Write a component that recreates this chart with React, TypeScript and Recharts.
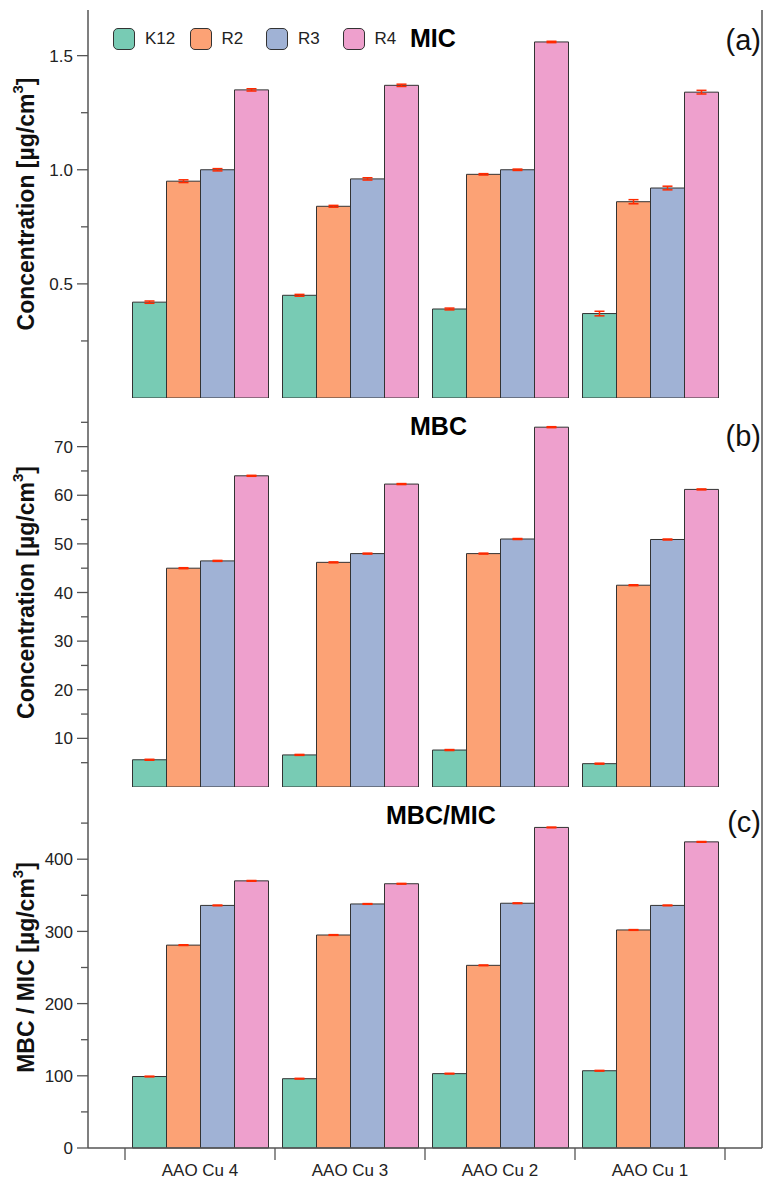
import React from "react";
import { BarChart, Bar, XAxis, YAxis, ErrorBar, Legend } from "recharts";

// samples on the x axis
const categories = ["AAO Cu 4", "AAO Cu 3", "AAO Cu 2", "AAO Cu 1"];
const seriesNames = ["K12", "R2", "R3", "R4"];
const seriesKeys = ["k12", "r2", "r3", "r4"];
const seriesColors = ["#78cbb4", "#fca275", "#a0b2d5", "#eea0cd"];

// (a) MIC [ug/cm3]
const micK12 = [0.42, 0.45, 0.39, 0.37];
const micR2 = [0.95, 0.84, 0.98, 0.86];
const micR3 = [1.0, 0.96, 1.0, 0.92];
const micR4 = [1.35, 1.37, 1.56, 1.34];
const micErrK12 = [0.005, 0.004, 0.004, 0.01];
const micErrR2 = [0.006, 0.004, 0.003, 0.009];
const micErrR3 = [0.005, 0.005, 0.003, 0.008];
const micErrR4 = [0.005, 0.005, 0.003, 0.008];

// (b) MBC [ug/cm3]
const mbcK12 = [5.6, 6.6, 7.6, 4.8];
const mbcR2 = [45.0, 46.2, 48.0, 41.5];
const mbcR3 = [46.5, 48.0, 51.0, 50.9];
const mbcR4 = [64.0, 62.3, 74.0, 61.2];
const mbcErrK12 = [0.1, 0.1, 0.1, 0.1];
const mbcErrR2 = [0.1, 0.1, 0.1, 0.1];
const mbcErrR3 = [0.1, 0.1, 0.1, 0.1];
const mbcErrR4 = [0.1, 0.1, 0.1, 0.1];

// (c) MBC / MIC
const ratioK12 = [99, 96, 103, 107];
const ratioR2 = [281, 295, 253, 302];
const ratioR3 = [336, 338, 339, 336];
const ratioR4 = [370, 366, 444, 424];
const ratioErrK12 = [0.5, 0.5, 0.5, 0.5];
const ratioErrR2 = [0.5, 0.5, 0.5, 0.5];
const ratioErrR3 = [0.5, 0.5, 0.5, 0.5];
const ratioErrR4 = [0.5, 0.5, 0.5, 0.5];

// y ticks (all) and the labelled ones
const micTicks = [0.25, 0.5, 0.75, 1.0, 1.25, 1.5];
const micLabels = [0.5, 1.0, 1.5];
const mbcTicks = [5, 10, 15, 20, 25, 30, 35, 40, 45, 50, 55, 60, 65, 70, 75];
const mbcLabels = [10, 20, 30, 40, 50, 60, 70];
const ratioTicks = [0, 50, 100, 150, 200, 250, 300, 350, 400, 450];
const ratioLabels = [0, 100, 200, 300, 400];

const makeRows = (vals: number[][], errs: number[][]) =>
  categories.map((name, i) => {
    const row: any = { name };
    seriesKeys.forEach((k, s) => {
      row[k] = vals[s][i];
      row[k + "Err"] = errs[s][i];
    });
    return row;
  });

const micData = makeRows([micK12, micR2, micR3, micR4], [micErrK12, micErrR2, micErrR3, micErrR4]);
const mbcData = makeRows([mbcK12, mbcR2, mbcR3, mbcR4], [mbcErrK12, mbcErrR2, mbcErrR3, mbcErrR4]);
const ratioData = makeRows([ratioK12, ratioR2, ratioR3, ratioR4], [ratioErrK12, ratioErrR2, ratioErrR3, ratioErrR4]);

const FONT = '"Liberation Sans", Arial, sans-serif';
const AXIS = "#555";
const W = 772;

const YTick = (props: any) => {
  const { x, y, payload, labels, fmt } = props;
  const major = labels.some((l: number) => Math.abs(l - payload.value) < 1e-9);
  return (
    <g>
      <line x1={x + (major ? 4 : 8)} x2={x + 15} y1={y} y2={y} stroke={AXIS} strokeWidth={1.3} />
      {major && (
        <text x={x} y={y} dy="0.36em" textAnchor="end" fontSize={17} fill="#222" fontFamily={FONT}>
          {fmt(payload.value)}
        </text>
      )}
    </g>
  );
};

const XTick = (props: any) => {
  const { x, y, payload, index, visibleTicksCount } = props;
  const half = payload.offset || 75;
  const y0 = y - 16;
  return (
    <g>
      <line x1={x - half} x2={x - half} y1={y0} y2={y0 + 12} stroke={AXIS} strokeWidth={1.3} />
      {index === visibleTicksCount - 1 && (
        <line x1={x + half} x2={x + half} y1={y0} y2={y0 + 12} stroke={AXIS} strokeWidth={1.3} />
      )}
      <text x={x} y={y} dy="0.71em" textAnchor="middle" fontSize={17} fill="#222" fontFamily={FONT}>
        {payload.value}
      </text>
    </g>
  );
};

const YTitle = (props: any) => {
  const { viewBox, lead } = props;
  const cx = viewBox.x + 26;
  const cy = viewBox.y + viewBox.height / 2;
  return (
    <text
      x={cx}
      y={cy}
      transform={`rotate(-90, ${cx}, ${cy})`}
      textAnchor="middle"
      dominantBaseline="central"
      fontSize={23}
      fontWeight="bold"
      fill="#111"
      fontFamily={FONT}
    >
      {lead}[µg/cm<tspan dy={-9} fontSize={15}>3</tspan>
      <tspan dy={9} fontSize={23}>]</tspan>
    </text>
  );
};

const LegendBox = (props: any) => {
  const items = props.payload || [];
  return (
    <div style={{ display: "flex", fontFamily: FONT }}>
      {items.map((it: any) => (
        <div key={it.value} style={{ display: "flex", alignItems: "center", width: 76.5 }}>
          <div
            style={{
              width: 20,
              height: 20,
              borderRadius: 5,
              border: "1.3px solid #333",
              background: it.color,
              marginRight: 10,
            }}
          />
          <span style={{ fontSize: 17, color: "#222" }}>{it.value}</span>
        </div>
      ))}
    </div>
  );
};

function Panel(props: any) {
  const { data, height, top, bottomAxis, domain, ticks, labels, fmt, lead, showLegend, children } = props;
  const axisLine = { stroke: AXIS, strokeWidth: 1.5 };
  return (
    <BarChart
      width={W}
      height={height}
      data={data}
      margin={{ top, right: 0, bottom: 0, left: 0 }}
      barGap={0}
      barCategoryGap="5%"
      style={{ fontFamily: FONT }}
    >
      <XAxis xAxisId="top" orientation="top" dataKey="name" height={0} tick={false} tickLine={false} axisLine={axisLine} />
      <XAxis
        dataKey="name"
        padding={{ left: 37, right: 37 }}
        height={bottomAxis ? 42 : 0}
        axisLine={axisLine}
        tickLine={false}
        tickSize={12}
        tickMargin={4}
        interval={0}
        tick={bottomAxis ? (p: any) => <XTick {...p} /> : false}
      />
      <YAxis
        width={88}
        domain={domain}
        ticks={ticks}
        interval={0}
        tickSize={11}
        tickMargin={4}
        tickLine={false}
        axisLine={axisLine}
        tick={(p: any) => <YTick {...p} labels={labels} fmt={fmt} />}
        label={(p: any) => <YTitle {...p} lead={lead} />}
      />
      <YAxis yAxisId="right" orientation="right" width={10} domain={domain} tick={false} tickLine={false} axisLine={axisLine} />
      {showLegend && (
        <Legend
          layout="horizontal"
          verticalAlign="middle"
          align="center"
          wrapperStyle={{ top: 28, left: 113, width: 330 }}
          content={(p: any) => <LegendBox {...p} />}
        />
      )}
      {seriesKeys.map((k, s) => (
        <Bar
          key={k}
          dataKey={k}
          name={seriesNames[s]}
          fill={seriesColors[s]}
          stroke="#333"
          strokeWidth={1}
          isAnimationActive={false}
        >
          <ErrorBar dataKey={k + "Err"} width={5} stroke="#ff2a00" strokeWidth={1.5} isAnimationActive={false} />
        </Bar>
      ))}
      {children}
    </BarChart>
  );
}

export default function App() {
  return (
    <div style={{ position: "absolute", left: 0, top: 0, width: W, fontFamily: FONT, background: "#fff" }}>
      <Panel
        data={micData}
        height={398}
        top={10}
        domain={[0, 1.7]}
        ticks={micTicks}
        labels={micLabels}
        fmt={(v: number) => v.toFixed(1)}
        lead="Concentration "
        showLegend
      >
        <text x={410} y={47} fontSize={25} fontWeight="bold" fill="#000" fontFamily={FONT}>MIC</text>
        <text x={761} y={50} fontSize={29} textAnchor="end" fill="#111" fontFamily={FONT}>(a)</text>
      </Panel>
      <Panel
        data={mbcData}
        height={389}
        top={0}
        domain={[0, 80]}
        ticks={mbcTicks}
        labels={mbcLabels}
        fmt={(v: number) => String(v)}
        lead="Concentration "
      >
        <text x={410} y={37} fontSize={25} fontWeight="bold" fill="#000" fontFamily={FONT}>MBC</text>
        <text x={761} y={48} fontSize={29} textAnchor="end" fill="#111" fontFamily={FONT}>(b)</text>
      </Panel>
      <Panel
        data={ratioData}
        height={403}
        top={0}
        bottomAxis
        domain={[0, 500]}
        ticks={ratioTicks}
        labels={ratioLabels}
        fmt={(v: number) => String(v)}
        lead="MBC / MIC "
      >
        <text x={386} y={37} fontSize={25} fontWeight="bold" fill="#000" fontFamily={FONT}>MBC/MIC</text>
        <text x={761} y={45} fontSize={29} textAnchor="end" fill="#111" fontFamily={FONT}>(c)</text>
      </Panel>
    </div>
  );
}
